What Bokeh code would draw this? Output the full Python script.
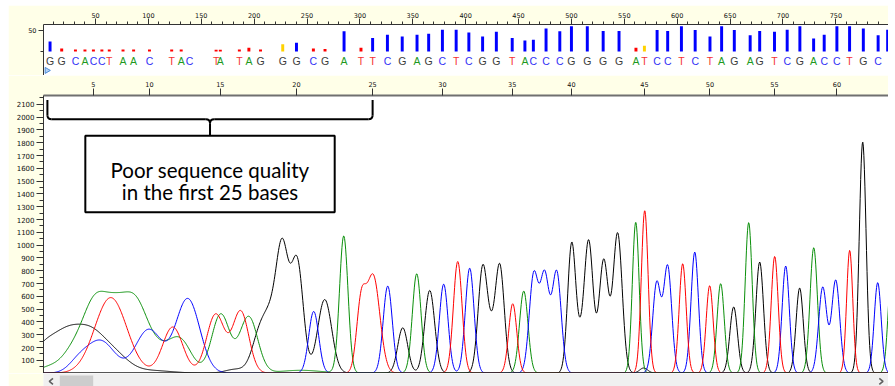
import numpy as np
from bokeh.plotting import figure
from bokeh.layouts import column
from bokeh.models import Range1d, FixedTicker, SingleIntervalTicker, Span, BoxAnnotation
from bokeh.core.properties import value
from bokeh.embed import file_html
from bokeh.resources import INLINE

# ---------------------------------------------------------------- base calls
# scan position of each called base, the call itself, and its quality value
base_scan = [7, 18, 31, 40, 48, 56, 63, 76, 86, 101,
             122, 131, 139, 164, 168, 186, 195, 206, 227, 240,
             256, 267, 285, 301, 312, 326, 340, 354, 365, 378,
             391, 403, 416, 429, 444, 456, 464, 476, 489, 500,
             515, 530, 545, 561, 569, 581, 591, 604, 617, 631,
             642, 654, 669, 678, 692, 704, 716, 729, 739, 751,
             763, 776, 790, 799]
base_call = "GGCACCTAACTACTATAGGGCGATTCGAGCTCGGTACCCGGGGATCCTCTAGAGTCGACCTGCA"
base_quality = [24, 7, 5, 5, 5, 5, 5, 5, 5, 5,
                5, 5, 0, 4, 4, 5, 9, 5, 17, 21,
                7, 6, 48, 9, 32, 40, 36, 40, 42, 52,
                52, 45, 36, 47, 32, 26, 28, 55, 48, 60,
                60, 49, 49, 9, 14, 51, 49, 60, 51, 36,
                60, 51, 39, 49, 47, 52, 60, 31, 40, 60,
                60, 55, 39, 52]

# --------------------------------------------- dye channel peaks (scan, RFU, width)
g_center = [2.9, 22.8, 43.6, 69.1, 102.2, 182.5, 206.2, 217.5, 227.0, 240.7,
            266.7, 340.5, 366.0, 416.1, 423.7, 432.2, 500.2, 507.8, 516.3, 530.5,
            543.7, 568.3, 653.4, 678.0, 715.8, 775.4]
g_height = [220, 170, 320, 110, 20, 30, 330, 330, 880, 860,
            575, 354, 646, 820, 200, 840, 1000, 170, 1025, 880,
            1090, 40, 517, 868, 665, 1805]
g_width = [13.2, 11.3, 15.1, 13.2, 18.9, 9.5, 7.6, 6.6, 5.7, 5.7,
           6.6, 4.7, 4.7, 4.3, 3.8, 4.3, 3.8, 3.8, 4.2, 4.3,
           4.3, 3.8, 3.6, 3.6, 3.4, 3.2]

a_center = [7.6, 26.5, 50.2, 69.1, 87.0, 111.6, 130.5, 168.4, 194.8, 244.0,
            284.7, 353.7, 454.9, 560.8, 641.1, 667.6, 729.1, 802.8]
a_height = [50, 100, 580, 230, 550, 140, 240, 460, 440, 22,
            1070, 776, 641, 1180, 699, 1176, 980, 800]
a_width = [11.3, 9.5, 13.2, 9.5, 12.3, 11.3, 10.4, 8.5, 8.5, 18.9,
           4.0, 4.1, 4.0, 3.2, 3.4, 3.3, 3.5, 3.3]

c_center = [34.1, 54.9, 100.3, 137.2, 256.3, 326.3, 379.2, 403.8, 464.3, 474.7,
            486.1, 580.6, 591.0, 616.6, 702.6, 737.6, 749.9, 789.6]
c_height = [80, 250, 340, 580, 482, 680, 695, 820, 760, 750,
            785, 700, 830, 946, 837, 670, 725, 707]
c_width = [9.5, 13.2, 12.3, 11.3, 4.7, 4.3, 4.1, 4.1, 4.2, 4.2,
           4.2, 3.8, 3.8, 3.5, 3.4, 3.8, 3.8, 3.3]

t_center = [64.4, 123.0, 163.6, 187.3, 301.0, 312.5, 392.5, 444.5, 569.3, 605.2,
            630.7, 692.2, 763.1]
t_height = [590, 360, 460, 480, 500, 760, 872, 542, 1271, 855,
            683, 912, 959]
t_width = [15.1, 9.5, 8.5, 7.6, 4.3, 6.3, 4.1, 3.8, 3.2, 3.3,
           3.3, 3.3, 2.9]

# axis tick values
scan_ticks_interval = 50
signal_ticks = list(range(100, 2101, 100))
signal_minor_ticks = list(range(50, 2151, 100))
cursor_scan = 4

annotation_lines = ["Poor sequence quality", "in the first 25 bases"]
poor_region_bases = 25

# ---------------------------------------------------------------- styling
CREAM = "#FFFFE8"
BASE_COLOR = {"A": "#1E9A1E", "C": "#3232F5", "G": "#3C3C3C", "T": "#F53232"}
TRACE_COLOR = {"G": "#000000", "A": "#0A8F0A", "T": "#FF0000", "C": "#0000FF"}
SCAN_START, SCAN_END = 0.8, 799.8

scans = np.arange(0.0, 806.0, 0.5)


def channel_trace(centers, heights, widths):
    c = np.asarray(centers, dtype=float)[:, None]
    h = np.asarray(heights, dtype=float)[:, None]
    w = np.asarray(widths, dtype=float)[:, None]
    return (h * np.exp(-0.5 * ((scans[None, :] - c) / w) ** 2)).sum(axis=0)


def style_axis(ax, size, tick_out, minor_out, standoff, line_color="#333333", line_width=1):
    ax.axis_line_color = line_color
    ax.axis_line_width = line_width
    ax.major_tick_line_color = "#333333"
    ax.minor_tick_line_color = "#333333"
    ax.major_tick_in = 0
    ax.major_tick_out = tick_out
    ax.minor_tick_in = 0
    ax.minor_tick_out = minor_out
    ax.major_label_standoff = standoff
    ax.major_label_text_font = "DejaVu Sans"
    ax.major_label_text_font_size = size
    ax.major_label_text_color = "#111111"


x_range = Range1d(SCAN_START, SCAN_END)

# ------------------------------------------------ quality bars + base calls
fa = figure(width=880, height=70, x_range=x_range, y_range=Range1d(-57.1, 64.3),
            x_axis_location="above", output_backend="svg", toolbar_location=None,
            min_border_left=35, min_border_right=0, min_border_top=19, min_border_bottom=0)
fa.background_fill_color = "white"
fa.border_fill_color = CREAM
fa.outline_line_color = None
fa.grid.visible = False

xa = fa.xaxis[0]
xa.ticker = SingleIntervalTicker(interval=scan_ticks_interval, num_minor_ticks=5)
style_axis(xa, "6.5px", 6, 3, 1)
ya = fa.yaxis[0]
ya.ticker = FixedTicker(ticks=[50], minor_ticks=[0])
style_axis(ya, "6.5px", 5, 3, 2)


def quality_color(q):
    if q < 10:
        return "#FF0000"
    if q < 20:
        return "#FFD200"
    return "#0000FF"


fa.vbar(x=base_scan, width=2.8, bottom=0, top=base_quality,
        fill_color=[quality_color(q) for q in base_quality], line_color=None)

visible = [i for i, s in enumerate(base_scan) if s <= SCAN_END - 5]
fa.text(x=[base_scan[i] for i in visible], y=[-23] * len(visible),
        text=[base_call[i] for i in visible],
        text_color=[BASE_COLOR[base_call[i]] for i in visible],
        text_align="center", text_baseline="middle",
        text_font=value("Liberation Sans"), text_font_size="10.5px")

fa.scatter(x=[cursor_scan], y=[-45], marker="triangle", size=6, angle=-np.pi / 2,
           fill_color="#B5D3F5", line_color="#4C8BD6", line_width=1)

# ------------------------------------------------------------ chromatogram
fb = figure(width=880, height=298, x_range=x_range, y_range=Range1d(-3, 2169),
            x_axis_location="above", output_backend="svg", toolbar_location=None,
            min_border_left=35, min_border_right=0, min_border_top=20, min_border_bottom=0)
fb.background_fill_color = "white"
fb.border_fill_color = CREAM
fb.outline_line_color = None
fb.grid.visible = False

# the base-number ruler band sits on white, the left margin stays cream
fb.add_layout(BoxAnnotation(left=35, right=880, top=0, bottom=20,
                            left_units="canvas", right_units="canvas",
                            top_units="canvas", bottom_units="canvas",
                            fill_color="white", fill_alpha=1.0, line_color=None,
                            level="underlay"))

numbered = list(range(4, len(base_scan), 5))
bx = fb.xaxis[0]
bx.ticker = FixedTicker(ticks=[base_scan[i] for i in numbered], minor_ticks=[])
bx.major_label_overrides = {base_scan[i]: str(i + 1) for i in numbered}
style_axis(bx, "6.5px", 7, 0, 2, line_color="#707070", line_width=2)

by = fb.yaxis[0]
by.ticker = FixedTicker(ticks=signal_ticks, minor_ticks=signal_minor_ticks)
style_axis(by, "7px", 7, 4, 2)

for key, (cen, hei, wid) in [("G", (g_center, g_height, g_width)),
                             ("A", (a_center, a_height, a_width)),
                             ("C", (c_center, c_height, c_width)),
                             ("T", (t_center, t_height, t_width))]:
    fb.line(scans, channel_trace(cen, hei, wid), line_color=TRACE_COLOR[key], line_width=1)

fb.add_layout(Span(location=0, dimension="width", line_color="#1E1E1E", line_width=1.5))

# bracket spanning the first bases, with a labelled box below it
left = base_scan[0] - 2.5
right = base_scan[poor_region_bases - 1]
mid = (left + right) / 2
y_top, y_bar, box_top, box_bottom = 2133, 1984, 1854, 1256
rx, ry = 4.0, 31.0
half_box = 117.9

bracket = dict(line_color="black", line_width=2)
fb.segment(x0=[left, right, left + rx, mid + rx, mid],
           y0=[y_top, y_top, y_bar, y_bar, y_bar - ry],
           x1=[left, right, mid - rx, right - rx, mid],
           y1=[y_bar + ry, y_bar + ry, y_bar, y_bar, box_top], **bracket)
fb.quadratic(x0=[left, right, mid - rx, mid + rx],
             y0=[y_bar + ry, y_bar + ry, y_bar, y_bar],
             x1=[left + rx, right - rx, mid, mid],
             y1=[y_bar, y_bar, y_bar - ry, y_bar - ry],
             cx=[left, right, mid, mid],
             cy=[y_bar, y_bar, y_bar, y_bar], **bracket)
fb.quad(left=[mid - half_box], right=[mid + half_box], top=[box_top], bottom=[box_bottom],
        fill_color="white", line_color="black", line_width=2)
fb.text(x=[mid, mid], y=[1586, 1416], text=annotation_lines,
        text_align="center", text_baseline="alphabetic", text_color="black",
        text_font=value("Lato"), text_font_size="20.5px")

# ---------------------------------------------------------------- scrollbar
fc = figure(width=880, height=13, x_range=Range1d(0, 845), y_range=Range1d(0, 13),
            x_axis_type=None, y_axis_type=None, output_backend="svg", toolbar_location=None,
            min_border_left=35, min_border_right=0, min_border_top=0, min_border_bottom=0)
fc.background_fill_color = "#F0F0F0"
fc.border_fill_color = CREAM
fc.outline_line_color = None
fc.grid.visible = False
fc.quad(left=[16.3], right=[49.7], bottom=[0], top=[11], fill_color="#CDCDCD", line_color=None)
fc.line([9.5, 5.8, 9.5], [8.2, 5.2, 2.2], line_color="#606060", line_width=1.6)
fc.line([835.8, 839.5, 835.8], [8.2, 5.2, 2.2], line_color="#606060", line_width=1.6)

layout = column(fa, fb, fc, spacing=0, margin=(5, 0, 0, 8))

open("out.html", "w").write(file_html(layout, INLINE))
